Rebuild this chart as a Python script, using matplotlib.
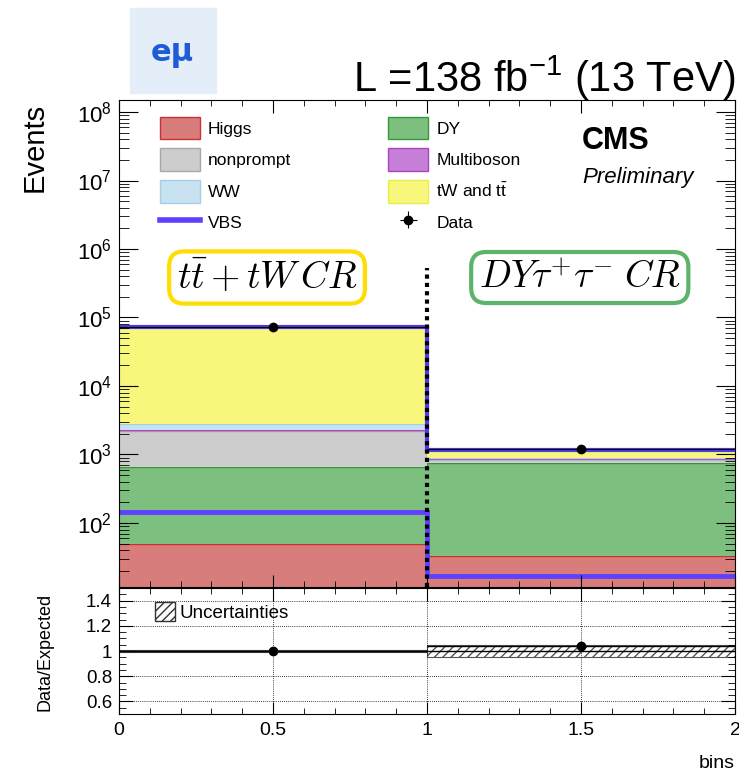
import numpy as np
import matplotlib.pyplot as plt
from matplotlib.patches import Patch, Rectangle
from matplotlib.lines import Line2D
from matplotlib.ticker import MultipleLocator, LogLocator, NullFormatter

plt.rcParams['font.family'] = ['Liberation Sans', 'DejaVu Sans']

# two bins: ttbar+tW control region, DY tautau control region
bin_edges = [0, 1, 2]
bin_centers = [0.5, 1.5]
higgs = [49, 33]
dy = [614, 712]
nonprompt = [1550, 100]
multiboson = [30, 10]
ww = [520, 45]
tw_tt = [71000, 270]
vbs = [146, 17]
data = [73500, 1220]
unc_lo = [0.995, 0.955]
unc_hi = [1.005, 1.048]

x_ticks = [0, 0.5, 1, 1.5, 2]
x_labels = ['0', '0.5', '1', '1.5', '2']
ratio_ticks = [0.6, 0.8, 1.0, 1.2, 1.4]
ratio_labels = ['0.6', '0.8', '1', '1.2', '1.4']

# (name, values, fill, edge) from bottom to top of the stack
stack = [
    ('Higgs', higgs, '#d97c7c', '#cc3030'),
    ('DY', dy, '#7dbf7f', '#2f9a3a'),
    ('nonprompt', nonprompt, '#cdcdcd', '#a8a8a8'),
    ('Multiboson', multiboson, '#c67fd6', '#b040c8'),
    ('WW', ww, '#c9e2f2', '#a4cfe9'),
    (r'tW and $\mathdefault{t\bar{t}}$', tw_tt, '#f7f77c', '#ecec50'),
]
vbs_color = '#6040ff'

W, H = 739, 774
fig = plt.figure(figsize=(W / 100, H / 100), dpi=100)
ax = fig.add_axes([119 / W, 1 - 587 / H, 616 / W, 487 / H])
rax = fig.add_axes([119 / W, 1 - 714 / H, 616 / W, 126 / H])

# ---- main panel ----
cum = np.zeros(len(bin_centers))
for name, vals, fc, ec in stack:
    top = cum + np.array(vals, float)
    base = cum if cum.any() else np.ones_like(cum)
    ax.stairs(top, bin_edges, baseline=base, fill=True, color=fc, lw=0)
    ax.stairs(top, bin_edges, baseline=None, color=ec, lw=1)
    cum = top

ax.stairs(cum, bin_edges, baseline=None, color='#5238e6', lw=3)
ax.stairs(vbs, bin_edges, baseline=None, color=vbs_color, lw=3.5)
ax.errorbar(bin_centers, data, xerr=0.5, yerr=np.sqrt(data), fmt='o',
            color='k', ms=6, lw=0.8, capsize=0, zorder=6)
ax.axvline(bin_edges[1], ymax=0.655, color='k', ls=(0, (1, 1)), lw=3, zorder=7)

ax.set_xlim(0, 2)
ax.set_yscale('log')
ax.set_ylim(11.6, 1.5e8)
ax.yaxis.set_major_locator(LogLocator(base=10, numticks=20))
ax.yaxis.set_minor_locator(LogLocator(base=10, subs=np.arange(2, 10), numticks=20))
ax.yaxis.set_minor_formatter(NullFormatter())
ax.xaxis.set_major_locator(MultipleLocator(0.5))
ax.xaxis.set_minor_locator(MultipleLocator(0.1))
ax.tick_params(which='both', direction='in', top=True, right=True, labelbottom=False)
ax.tick_params(axis='y', which='major', length=14, labelsize=16, pad=5)
ax.tick_params(axis='y', which='minor', length=7)
ax.tick_params(axis='x', which='major', length=9)
ax.tick_params(axis='x', which='minor', length=4.5)

fills = {name: (fc, ec) for name, _, fc, ec in stack}
def patch(name):
    fc, ec = fills[name]
    return Patch(facecolor=fc, edgecolor=ec, lw=1)

tw_name = stack[5][0]
handles = [patch('Higgs'), patch('nonprompt'), patch('WW'),
           Line2D([], [], color=vbs_color, lw=4),
           patch('DY'), patch('Multiboson'), patch(tw_name),
           ax.containers[-1]]
labels = ['Higgs', 'nonprompt', 'WW', 'VBS', 'DY', 'Multiboson', tw_name, 'Data']
ax.legend(handles, labels, ncol=2, loc='upper left', bbox_to_anchor=(0.0666, 0.966),
          frameon=False, fontsize=12.5, handlelength=2.3, handleheight=1.65,
          handletextpad=0.46, labelspacing=0.5, columnspacing=5.6,
          borderpad=0, borderaxespad=0)

ax.text(0.7516, 0.899, 'CMS', transform=ax.transAxes, fontsize=22,
        weight='bold', va='baseline')
ax.text(0.7516, 0.8296, 'Preliminary', transform=ax.transAxes, fontsize=16,
        style='italic', va='baseline')

ax.text(0.2403, 0.6355, r'$t\bar{t}+tW\,CR$', transform=ax.transAxes,
        ha='center', va='center', fontsize=27, math_fontfamily='cm',
        bbox=dict(boxstyle='round,pad=0.2,rounding_size=0.4', fc='white',
                  ec='#ffdd00', lw=3))
ax.text(0.748, 0.6355, r'$DY\tau^{+}\tau^{-}\;CR$', transform=ax.transAxes,
        ha='center', va='center', fontsize=27, math_fontfamily='cm',
        bbox=dict(boxstyle='round,pad=0.2,rounding_size=0.4', fc='white',
                  ec='#5cb36a', lw=3))

# ---- ratio panel ----
rax.bar(bin_centers, np.subtract(unc_hi, unc_lo), bottom=unc_lo, width=1,
        fill=False, hatch='////', edgecolor='#555555', lw=0.8)
rax.axhline(1, color='k', lw=1)
ratio = np.array(data) / cum
ratio_err = np.sqrt(data) / cum
rax.errorbar(bin_centers, ratio, xerr=0.5, yerr=ratio_err, fmt='o',
             color='k', ms=6, lw=1, capsize=0, zorder=6)

rax.set_xlim(0, 2)
rax.set_ylim(0.5, 1.5)
rax.set_xticks(x_ticks, x_labels)
rax.set_yticks(ratio_ticks, ratio_labels)
rax.xaxis.set_minor_locator(MultipleLocator(0.1))
rax.yaxis.set_minor_locator(MultipleLocator(0.05))
rax.grid(True, which='major', ls=(0, (1, 1.5)), color='k', lw=0.6)
rax.tick_params(which='both', direction='in', top=True, right=True, labelsize=14)
rax.tick_params(axis='y', which='major', length=10, pad=5, labelsize=13.5)
rax.tick_params(axis='y', which='minor', length=5)
rax.tick_params(axis='x', which='major', length=9, pad=6)
rax.tick_params(axis='x', which='minor', length=4.5)

rax.legend([Patch(facecolor='white', edgecolor='#333333', hatch='////', lw=1)],
           ['Uncertainties'], loc='upper left', bbox_to_anchor=(0.058, 0.885),
           frameon=False, fontsize=13.5, handlelength=1.07, handleheight=1.12,
           handletextpad=0.27, borderpad=0, borderaxespad=0)

# ---- labels around the figure ----
fig.text(35 / W, 1 - 103 / H, 'Events', rotation=90, ha='center', va='top', fontsize=21)
fig.text(45 / W, 1 - 652 / H, 'Data/Expected', rotation=90, ha='center',
         va='center', fontsize=13)
fig.text(735 / W, 1 - 763 / H, 'bins', ha='right', va='center', fontsize=14)
fig.text(735 / W, 1 - 92 / H, r'L =138 fb$^{\mathdefault{-1}}$ (13 TeV)',
         ha='right', va='baseline', fontsize=30)

fig.patches.append(Rectangle((130 / W, 1 - 93 / H), 86 / W, 85 / H,
                             transform=fig.transFigure, color='#e3eef9'))
fig.text(172 / W, 1 - 53 / H, 'eμ', color='#1f5bd6', fontsize=22,
         weight='bold', family='DejaVu Sans', ha='center', va='center')

fig.savefig('out.png', dpi=100)
